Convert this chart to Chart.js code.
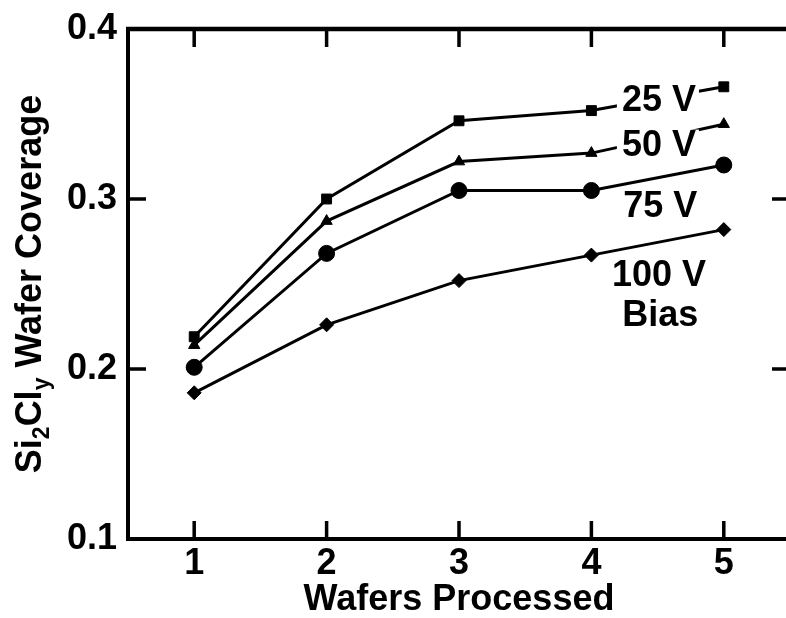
<!DOCTYPE html>
<html lang="en">
<head>
  <meta charset="UTF-8">
  <title>Si2Cly Wafer Coverage</title>
  <script src="https://cdn.jsdelivr.net/npm/chart.js"></script>
  <style>
    body { margin: 0; background: #fff; overflow: hidden; }
    #wrap { position: relative; width: 800px; height: 618px; }
  </style>
</head>
<body>
<div id="wrap"><canvas id="coverageChart"></canvas></div>

<script>
const wafers = [1, 2, 3, 4, 5];
const bias25 = [0.219, 0.300, 0.346, 0.352, 0.366];
const bias50 = [0.214, 0.287, 0.322, 0.327, 0.344];
const bias75 = [0.201, 0.268, 0.305, 0.305, 0.320];
const bias100 = [0.186, 0.226, 0.252, 0.267, 0.282];
const xTicks = [1, 2, 3, 4, 5];
const yTicks = [0.1, 0.2, 0.3, 0.4];

// text labels next to the curves (placed in data units)
const biasLabels = [
  { text: '25 V', x: 4.51, y: 0.358 },
  { text: '50 V', x: 4.51, y: 0.332 },
  { text: '75 V', x: 4.52, y: 0.296 },
  { text: '100 V', x: 4.51, y: 0.255 },
  { text: 'Bias', x: 4.52, y: 0.232 }
];

const FONT = '"Liberation Sans", Arial, Helvetica, sans-serif';

function series(vals) {
  return vals.map((v, i) => ({ x: wafers[i], y: v }));
}

function ds(vals, style, r) {
  return {
    data: series(vals),
    borderColor: '#000',
    borderWidth: 3,
    pointStyle: style,
    pointRadius: r,
    pointBackgroundColor: '#000',
    pointBorderColor: '#000',
    pointBorderWidth: 1,
    tension: 0
  };
}

// frame: top line and inward ticks on all four sides, plus y title
const framePlugin = {
  id: 'frame',
  afterDraw(chart) {
    const { ctx, chartArea: a, scales: { x, y } } = chart;
    const tl = 18;
    ctx.save();
    ctx.strokeStyle = '#000';
    ctx.lineWidth = 4.5;
    ctx.beginPath();
    ctx.moveTo(a.left - 2, a.top);
    ctx.lineTo(a.right + 2, a.top);
    ctx.moveTo(a.right, a.top);
    ctx.lineTo(a.right, a.bottom);
    ctx.stroke();
    ctx.lineWidth = 3.5;
    ctx.beginPath();
    xTicks.forEach(v => {
      const px = x.getPixelForValue(v);
      ctx.moveTo(px, a.bottom);
      ctx.lineTo(px, a.bottom - tl);
      ctx.moveTo(px, a.top);
      ctx.lineTo(px, a.top + tl);
    });
    yTicks.slice(1, -1).forEach(v => {
      const py = y.getPixelForValue(v);
      ctx.moveTo(a.left, py);
      ctx.lineTo(a.left + tl, py);
      ctx.moveTo(a.right, py);
      ctx.lineTo(a.right - tl, py);
    });
    ctx.stroke();

    // y axis title with subscripts
    const parts = [
      { t: 'Si', sub: false },
      { t: '2', sub: true },
      { t: 'Cl', sub: false },
      { t: 'y', sub: true },
      { t: ' Wafer Coverage', sub: false }
    ];
    const big = 'bold 36px ' + FONT;
    const small = 'bold 23px ' + FONT;
    let total = 0;
    parts.forEach(p => {
      ctx.font = p.sub ? small : big;
      p.w = ctx.measureText(p.t).width;
      total += p.w;
    });
    ctx.translate(41, (a.top + a.bottom) / 2);
    ctx.rotate(-Math.PI / 2);
    ctx.fillStyle = '#000';
    ctx.textAlign = 'left';
    ctx.textBaseline = 'alphabetic';
    let cx = -total / 2;
    parts.forEach(p => {
      ctx.font = p.sub ? small : big;
      ctx.fillText(p.t, cx, p.sub ? 8 : 0);
      cx += p.w;
    });
    ctx.restore();
  },
  afterDatasetsDraw(chart) {
    const { ctx, scales: { x, y } } = chart;
    ctx.save();
    ctx.font = 'bold 36px ' + FONT;
    ctx.textAlign = 'center';
    ctx.textBaseline = 'middle';
    biasLabels.forEach(l => {
      const px = x.getPixelForValue(l.x);
      const py = y.getPixelForValue(l.y);
      const w = ctx.measureText(l.text).width;
      ctx.fillStyle = '#fff';
      ctx.fillRect(px - w / 2 - 5, py - 15, w + 8, 30);
      ctx.fillStyle = '#000';
      ctx.fillText(l.text, px, py + 1);
    });
    ctx.restore();
  }
};

new Chart(document.getElementById('coverageChart'), {
  type: 'line',
  data: {
    datasets: [
      ds(bias25, 'rect', 7),
      ds(bias50, 'triangle', 6.5),
      ds(bias75, 'circle', 8),
      ds(bias100, 'rectRot', 7)
    ]
  },
  options: {
    responsive: true,
    maintainAspectRatio: false,
    animation: false,
    layout: { padding: { top: 20, right: 10, left: 0, bottom: 0 } },
    plugins: {
      legend: { display: false },
      tooltip: { enabled: false }
    },
    scales: {
      x: {
        type: 'linear',
        min: 0.5,
        max: 5.5,
        afterBuildTicks: s => { s.ticks = xTicks.map(v => ({ value: v })); },
        afterFit: s => { s.height = 79; },
        grid: { display: false, drawTicks: false },
        border: { display: true, color: '#000', width: 4 },
        ticks: {
          color: '#000',
          padding: 7,
          maxRotation: 0,
          font: { family: FONT, size: 36, weight: 'bold', lineHeight: 1 }
        },
        title: {
          display: true,
          text: 'Wafers Processed',
          color: '#000',
          padding: { top: 0, bottom: 0 },
          font: { family: FONT, size: 36, weight: 'bold', lineHeight: 1 }
        }
      },
      y: {
        min: 0.1,
        max: 0.4,
        afterBuildTicks: s => { s.ticks = yTicks.map(v => ({ value: v })); },
        afterFit: s => { s.width = 128; },
        grid: { display: false, drawTicks: false },
        border: { display: true, color: '#000', width: 4 },
        ticks: {
          color: '#000',
          padding: 11,
          callback: v => v.toFixed(1),
          font: { family: FONT, size: 36, weight: 'bold', lineHeight: 1 }
        }
      }
    }
  },
  plugins: [framePlugin]
});
</script>
</body>
</html>
